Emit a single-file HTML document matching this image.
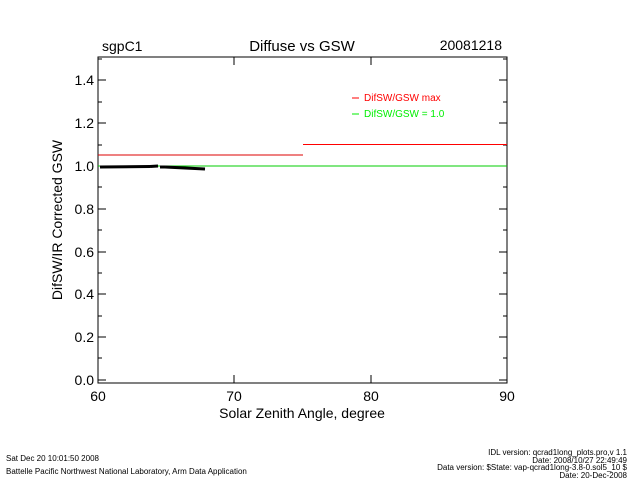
<!DOCTYPE html>
<html><head><style>body{margin:0;background:#fff}svg text{font-family:"Liberation Sans",sans-serif}</style></head><body>
<svg width="640" height="480" xmlns="http://www.w3.org/2000/svg">
<rect width="640" height="480" fill="#fff"/>
<text x="102" y="51" font-size="14">sgpC1</text>
<text x="302" y="51" font-size="15" text-anchor="middle">Diffuse vs GSW</text>
<text x="502" y="50" font-size="14" text-anchor="end">20081218</text>
<rect x="98" y="57" width="409" height="326" fill="none" stroke="#000" stroke-width="1"/>
<g stroke="#000">
<line x1="98" y1="380" x2="106" y2="380"/><line x1="98" y1="337" x2="106" y2="337"/><line x1="98" y1="294" x2="106" y2="294"/><line x1="98" y1="252" x2="106" y2="252"/><line x1="98" y1="209" x2="106" y2="209"/><line x1="98" y1="166" x2="106" y2="166"/><line x1="98" y1="123" x2="106" y2="123"/><line x1="98" y1="80" x2="106" y2="80"/>
<line x1="98" y1="358" x2="102" y2="358"/><line x1="98" y1="316" x2="102" y2="316"/><line x1="98" y1="273" x2="102" y2="273"/><line x1="98" y1="230" x2="102" y2="230"/><line x1="98" y1="187" x2="102" y2="187"/><line x1="98" y1="145" x2="102" y2="145"/><line x1="98" y1="102" x2="102" y2="102"/><line x1="98" y1="59" x2="102" y2="59"/>
<line x1="507" y1="380" x2="499" y2="380"/><line x1="507" y1="337" x2="499" y2="337"/><line x1="507" y1="294" x2="499" y2="294"/><line x1="507" y1="252" x2="499" y2="252"/><line x1="507" y1="209" x2="499" y2="209"/><line x1="507" y1="166" x2="499" y2="166"/><line x1="507" y1="123" x2="499" y2="123"/><line x1="507" y1="80" x2="499" y2="80"/>
<line x1="507" y1="358" x2="503" y2="358"/><line x1="507" y1="316" x2="503" y2="316"/><line x1="507" y1="273" x2="503" y2="273"/><line x1="507" y1="230" x2="503" y2="230"/><line x1="507" y1="187" x2="503" y2="187"/><line x1="507" y1="145" x2="503" y2="145"/><line x1="507" y1="102" x2="503" y2="102"/><line x1="507" y1="59" x2="503" y2="59"/>
<line x1="234" y1="383" x2="234" y2="375"/><line x1="371" y1="383" x2="371" y2="375"/>
<line x1="234" y1="57" x2="234" y2="65"/><line x1="371" y1="57" x2="371" y2="65"/>
</g>
<g font-size="14" text-anchor="end">
<text x="94" y="385">0.0</text><text x="94" y="342">0.2</text><text x="94" y="299">0.4</text><text x="94" y="257">0.6</text><text x="94" y="214">0.8</text><text x="94" y="171">1.0</text><text x="94" y="128">1.2</text><text x="94" y="85">1.4</text>
</g>
<g font-size="14" text-anchor="middle">
<text x="98" y="401">60</text><text x="234" y="401">70</text><text x="371" y="401">80</text><text x="507" y="401">90</text>
</g>
<text x="302" y="418" font-size="14" text-anchor="middle">Solar Zenith Angle, degree</text>
<text transform="translate(62,220) rotate(-90)" font-size="14" text-anchor="middle">DifSW/IR Corrected GSW</text>
<line x1="98" y1="166" x2="507" y2="166" stroke="#0c0" stroke-width="1"/>
<line x1="98" y1="155" x2="303" y2="155" stroke="#d00" stroke-width="1"/>
<line x1="303" y1="144.5" x2="507" y2="144.5" stroke="#f00" stroke-width="1"/>
<g stroke="#000" stroke-width="3">
<line x1="100" y1="167" x2="150" y2="166.5"/><line x1="150" y1="166.5" x2="158" y2="166"/>
<line x1="160" y1="167" x2="165" y2="167"/><line x1="165" y1="167" x2="205" y2="169"/>
</g>
<line x1="352" y1="98" x2="359" y2="98" stroke="#f00"/>
<text x="364" y="101" font-size="10" fill="#f00">DifSW/GSW max</text>
<line x1="352" y1="114" x2="359" y2="114" stroke="#0e0"/>
<text x="364" y="117" font-size="10" fill="#0e0">DifSW/GSW = 1.0</text>
<text x="6" y="461" font-size="8">Sat Dec 20 10:01:50 2008</text>
<text x="6" y="474" font-size="8">Battelle Pacific Northwest National Laboratory, Arm Data Application</text>
<g font-size="8" text-anchor="end">
<text x="627" y="455">IDL version: qcrad1long_plots.pro,v 1.1</text>
<text x="627" y="463">Date: 2008/10/27 22:49:49</text>
<text x="627" y="470">Data version: $State: vap-qcrad1long-3.8-0.sol5_10 $</text>
<text x="627" y="478">Date: 20-Dec-2008</text>
</g>
</svg>
</body></html>
